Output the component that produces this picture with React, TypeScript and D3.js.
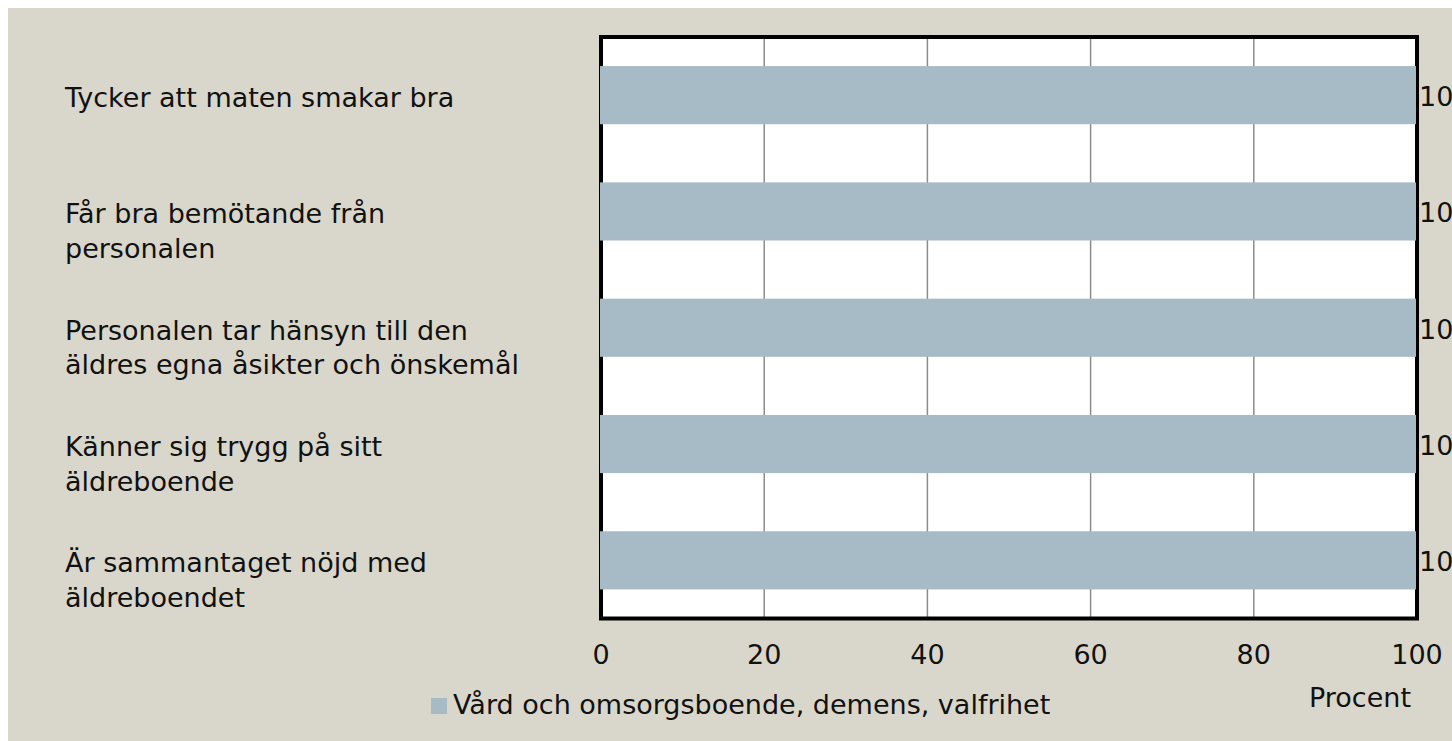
import * as d3 from "d3";

const categories = [
  "Tycker att maten smakar bra",
  "Får bra bemötande från\npersonalen",
  "Personalen tar hänsyn till den\näldres egna åsikter och önskemål",
  "Känner sig trygg på sitt\näldreboende",
  "Är sammantaget nöjd med\näldreboendet",
];
const values = [100, 100, 100, 100, 100];
const ticks = [0, 20, 40, 60, 80, 100];
const seriesName = "Vård och omsorgsboende, demens, valfrihet";
const axisTitle = "Procent";

const W = 1452;
const H = 741;
const font = "'DejaVu Sans', sans-serif";
const fs = 27;
const bg = "#d9d7cb";
const barColor = "#a7bbc6";

const App = () => {
  const x = d3.scaleLinear().domain([0, 100]).range([601, 1417]);
  const y = d3
    .scaleBand<string>()
    .domain(categories)
    .range([37, 618.5])
    .paddingInner(0.5)
    .paddingOuter(0.25);

  const [top, bottom] = y.range();

  return (
    <svg
      width={W}
      height={H}
      style={{ position: "absolute", left: 0, top: 0, display: "block" }}
      fontFamily={font}
    >
      <rect x={8} y={8} width={W - 8} height={H - 8} fill={bg} />
      {/* plot area */}
      <rect x={x(0)} y={top} width={x(100) - x(0)} height={bottom - top} fill="#fff" />
      {ticks.slice(1, -1).map((t) => (
        <line key={t} x1={x(t)} x2={x(t)} y1={top} y2={bottom} stroke="#8c8c8c" strokeWidth={1.5} />
      ))}
      <rect
        x={x(0)}
        y={top}
        width={x(100) - x(0)}
        height={bottom - top}
        fill="none"
        stroke="#000"
        strokeWidth={4}
      />
      {categories.map((c, i) => (
        <rect
          key={c}
          x={x(0) - 1}
          y={y(c)}
          width={x(values[i]) - x(0)}
          height={y.bandwidth()}
          fill={barColor}
        />
      ))}
      {/* value labels */}
      {categories.map((c, i) => (
        <text
          key={c}
          x={x(values[i]) + 2}
          y={(y(c) || 0) + y.bandwidth() / 2 + 11}
          fontSize={fs}
          fill="#111"
        >
          {values[i]}
        </text>
      ))}
      {/* category labels */}
      {categories.map((c) => {
        const cy = (y(c) || 0) + y.bandwidth() / 2;
        return (
          <text key={c} x={65} y={cy + 12} fontSize={fs} fill="#111">
            {c.split("\n").map((line, j) => (
              <tspan key={j} x={65} dy={j === 0 ? 0 : 34.5}>
                {line}
              </tspan>
            ))}
          </text>
        );
      })}
      {/* x ticks */}
      {ticks.map((t) => (
        <text key={t} x={x(t)} y={664} fontSize={fs} textAnchor="middle" fill="#111">
          {t}
        </text>
      ))}
      <text x={1360} y={707} fontSize={fs} textAnchor="middle" fill="#111">
        {axisTitle}
      </text>
      {/* legend */}
      <rect x={431} y={698} width={16} height={16} fill={barColor} />
      <text x={453} y={714} fontSize={fs} fill="#111">
        {seriesName}
      </text>
    </svg>
  );
};

export default App;
